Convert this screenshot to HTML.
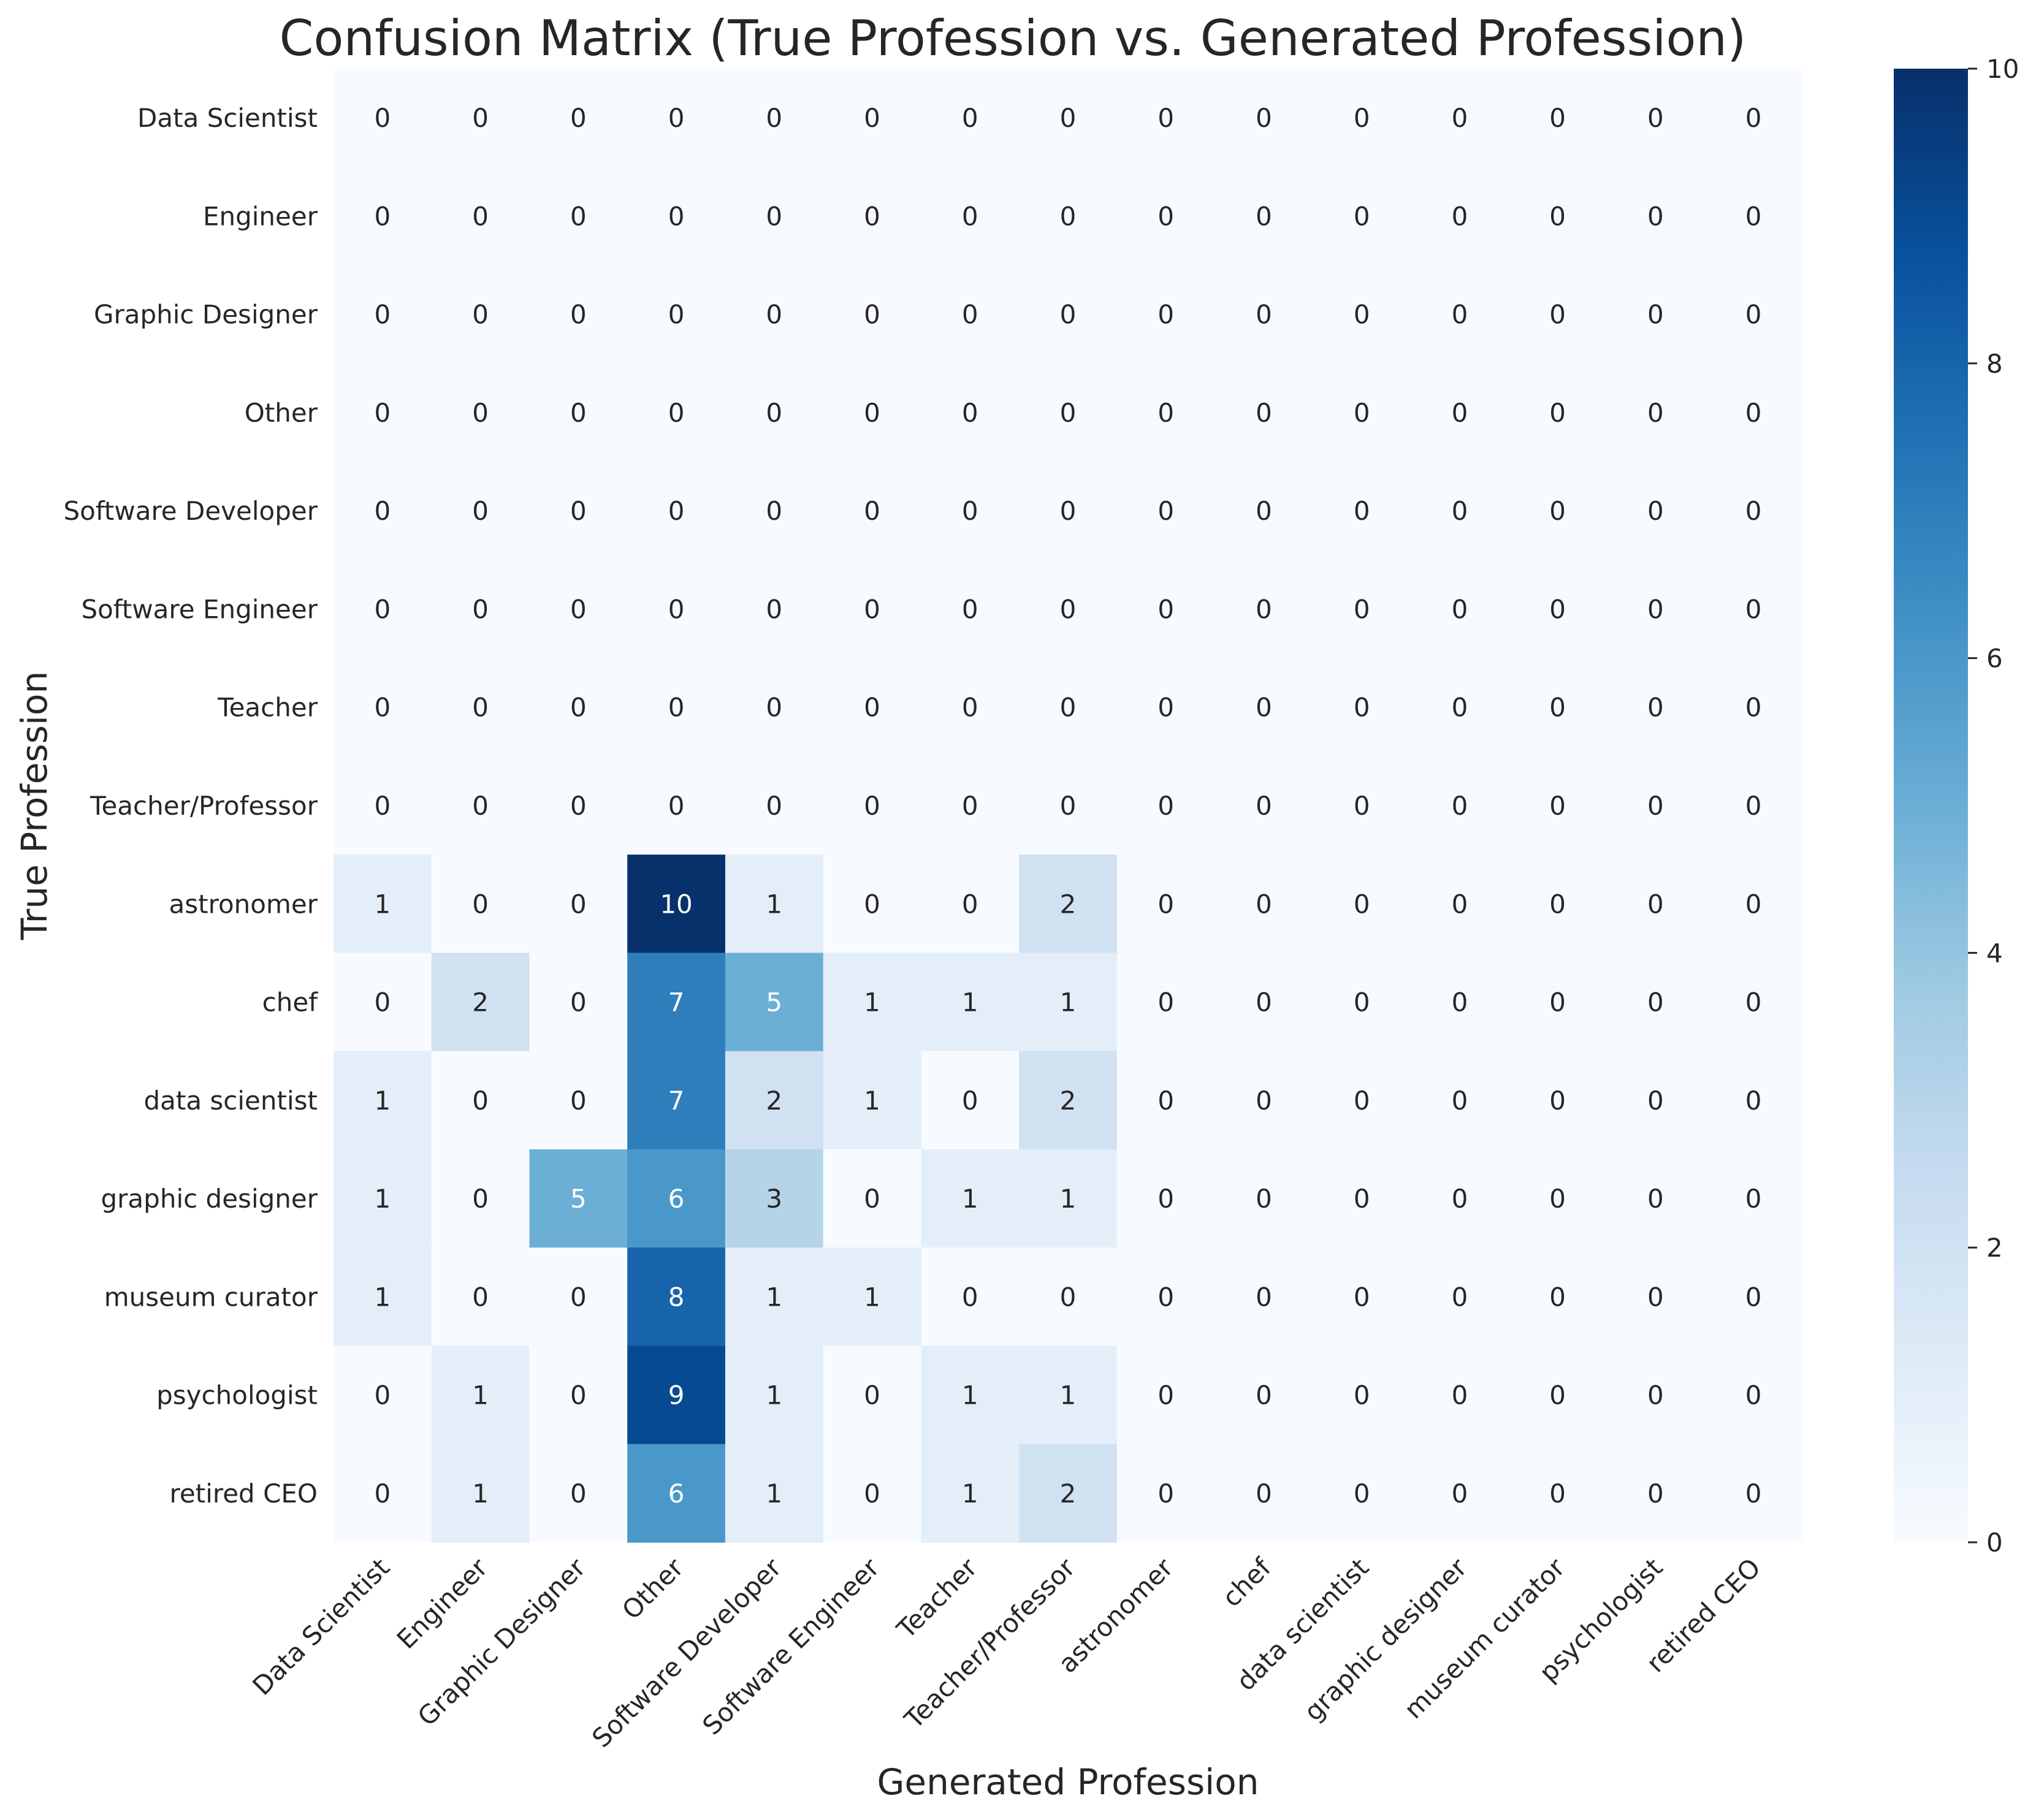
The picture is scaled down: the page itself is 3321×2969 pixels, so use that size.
<!DOCTYPE html>
<html><head><meta charset="utf-8"><style>
html,body{margin:0;padding:0;background:#fff;}
svg{display:block;font-family:"DejaVu Sans","Liberation Sans",sans-serif;}
</style></head><body>
<svg id="chart" width="3321" height="2969" viewBox="0 0 3321 2969" xmlns="http://www.w3.org/2000/svg">
<defs>
<linearGradient id="cbgrad" x1="0" y1="1" x2="0" y2="0">
<stop offset="0" stop-color="#f7fbff"/><stop offset="0.125" stop-color="#deebf7"/><stop offset="0.25" stop-color="#c6dbef"/><stop offset="0.375" stop-color="#9ecae1"/><stop offset="0.5" stop-color="#6baed6"/><stop offset="0.625" stop-color="#4292c6"/><stop offset="0.75" stop-color="#2171b5"/><stop offset="0.875" stop-color="#08519c"/><stop offset="1" stop-color="#08306b"/>
</linearGradient>
</defs>
<text x="1652" y="90" font-size="80" text-anchor="middle" fill="#262626">Confusion Matrix (True Profession vs. Generated Profession)</text>
<text x="1742" y="2927" font-size="58" text-anchor="middle" fill="#262626">Generated Profession</text>
<text x="0" y="0" font-size="58" text-anchor="middle" fill="#262626" transform="translate(76,1314) rotate(-90)">True Profession</text>
<g id="cells"></g><g id="ylabels"></g><g id="xlabels"></g>
<rect x="3089" y="112" width="121" height="2404" fill="url(#cbgrad)"/>
<g id="cbticks"></g>
</svg>
<script>
const rowLabels = ["Data Scientist","Engineer","Graphic Designer","Other","Software Developer","Software Engineer","Teacher","Teacher/Professor","astronomer","chef","data scientist","graphic designer","museum curator","psychologist","retired CEO"];
const colLabels = ["Data Scientist","Engineer","Graphic Designer","Other","Software Developer","Software Engineer","Teacher","Teacher/Professor","astronomer","chef","data scientist","graphic designer","museum curator","psychologist","retired CEO"];
const zeroRow = [0,0,0,0,0,0,0,0,0,0,0,0,0,0,0];
const rowAstronomer = [1,0,0,10,1,0,0,2,0,0,0,0,0,0,0];
const rowChef = [0,2,0,7,5,1,1,1,0,0,0,0,0,0,0];
const rowDataScientist = [1,0,0,7,2,1,0,2,0,0,0,0,0,0,0];
const rowGraphicDesigner = [1,0,5,6,3,0,1,1,0,0,0,0,0,0,0];
const rowMuseumCurator = [1,0,0,8,1,1,0,0,0,0,0,0,0,0,0];
const rowPsychologist = [0,1,0,9,1,0,1,1,0,0,0,0,0,0,0];
const rowRetiredCEO = [0,1,0,6,1,0,1,2,0,0,0,0,0,0,0];
const matrix = [zeroRow,zeroRow,zeroRow,zeroRow,zeroRow,zeroRow,zeroRow,zeroRow,rowAstronomer,rowChef,rowDataScientist,rowGraphicDesigner,rowMuseumCurator,rowPsychologist,rowRetiredCEO];
const cbTicks = [0,2,4,6,8,10];
const vmin = 0, vmax = 10;

const NS = "http://www.w3.org/2000/svg";
const L = 544, R = 2940, T = 112, B = 2516;
const cw = (R-L)/colLabels.length, ch = (B-T)/rowLabels.length;
const xPos = i => L + i*cw;
const yPos = j => T + j*ch;
const stops = [[247,251,255],[222,235,247],[198,219,239],[158,202,225],[107,174,214],[66,146,198],[33,113,181],[8,81,156],[8,48,107]];
function blues(v){
  let t = Math.max(0, Math.min(1,(v-vmin)/(vmax-vmin)))*(stops.length-1);
  let i = Math.min(Math.floor(t), stops.length-2), f = t-i;
  return stops[i].map((a,k)=>a+(stops[i+1][k]-a)*f);
}
function lum(c){const l=c.map(x=>{x/=255;return x<=0.03928?x/12.92:Math.pow((x+0.055)/1.055,2.4);});return 0.2126*l[0]+0.7152*l[1]+0.0722*l[2];}
const cells = document.getElementById('cells');
matrix.forEach((row,j)=>{
  row.forEach((v,i)=>{
    const c = blues(v);
    const r = document.createElementNS(NS,'rect');
    r.setAttribute('x',xPos(i)); r.setAttribute('y',yPos(j));
    r.setAttribute('width',cw+0.6); r.setAttribute('height',ch+0.6);
    r.setAttribute('fill',`rgb(${c.map(Math.round).join(',')})`);
    
    
    cells.appendChild(r);
    const t = document.createElementNS(NS,'text');
    t.setAttribute('x',xPos(i)+cw/2); t.setAttribute('y',yPos(j)+ch/2+15);
    t.setAttribute('font-size','42'); t.setAttribute('text-anchor','middle');
    t.setAttribute('fill', lum(c) < 0.408 ? '#ffffff' : '#262626');
    t.textContent = v;
    
    
    cells.appendChild(t);
  });
});
const yl = document.getElementById('ylabels');
rowLabels.forEach((lab,j)=>{
  const t = document.createElementNS(NS,'text');
  t.setAttribute('x',L-26); t.setAttribute('y',yPos(j)+ch/2+15);
  t.setAttribute('font-size','42'); t.setAttribute('text-anchor','end'); t.setAttribute('fill','#262626');
  t.textContent = lab;
  
  
  yl.appendChild(t);
});
const xl = document.getElementById('xlabels');
colLabels.forEach((lab,i)=>{
  const t = document.createElementNS(NS,'text');
  const cx = xPos(i)+cw/2+14, cy = B+44;
  t.setAttribute('x',0); t.setAttribute('y',0);
  t.setAttribute('transform',`translate(${cx},${cy}) rotate(-45)`);
  t.setAttribute('font-size','42'); t.setAttribute('text-anchor','end'); t.setAttribute('fill','#262626');
  t.textContent = lab;
  
  
  xl.appendChild(t);
});
const cb = document.getElementById('cbticks');
cbTicks.forEach(v=>{
  const y = B - (v-vmin)/(vmax-vmin)*(B-T);
  const ln = document.createElementNS(NS,'line');
  ln.setAttribute('x1',3210); ln.setAttribute('x2',3225); ln.setAttribute('y1',y); ln.setAttribute('y2',y);
  ln.setAttribute('stroke','#262626'); ln.setAttribute('stroke-width','3');
  
  
  cb.appendChild(ln);
  const t = document.createElementNS(NS,'text');
  t.setAttribute('x',3240); t.setAttribute('y',y+15);
  t.setAttribute('font-size','42'); t.setAttribute('fill','#262626');
  t.textContent = v;
  
  
  cb.appendChild(t);
});
</script>
</body></html>
